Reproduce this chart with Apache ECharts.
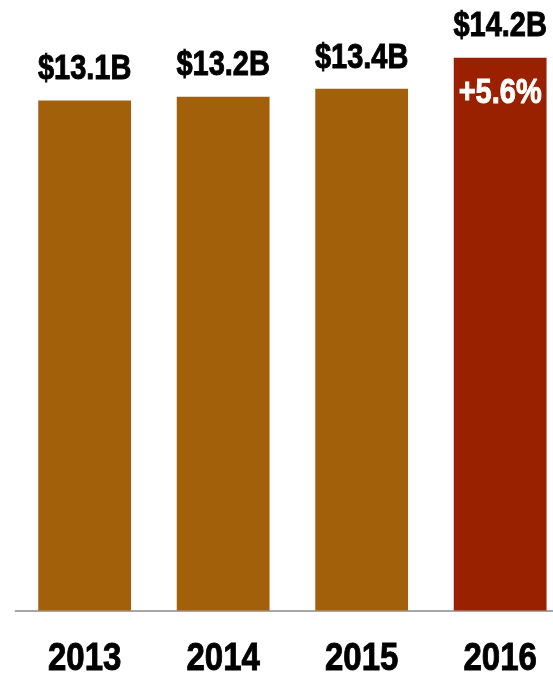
<!DOCTYPE html>
<html>
<head>
<meta charset="utf-8">
<script src="https://cdn.jsdelivr.net/npm/echarts@6/dist/echarts.min.js"></script>
<style>
  html, body { margin: 0; padding: 0; background: #fff; }
  #chart { width: 553px; height: 680px; }
</style>
</head>
<body>
<div id="chart"></div>
<script>
// Annual totals in billions of dollars
const years = ['2013', '2014', '2015', '2016'];
const revenue = [13.1, 13.2, 13.4, 14.2];
// Growth callout shown inside the latest bar
const growthLabels = ['', '', '', '+5.6%'];

const FONT = "'Liberation Sans', Arial, sans-serif";
const BROWN = '#A3600B';
const RED = '#992100';

const chart = echarts.init(document.getElementById('chart'), null, { renderer: 'canvas' });

chart.setOption({
  animation: false,
  grid: {
    left: 15.4, width: 554, top: 57.7, bottom: 69.5,
    containLabel: false,
    outerBoundsMode: 'none'
  },
  xAxis: {
    type: 'category',
    data: years,
    axisTick: { show: false },
    axisLabel: { show: false },
    axisLine: { lineStyle: { color: '#8a8a8a', width: 1.5 } }
  },
  yAxis: {
    type: 'value',
    min: 0,
    max: 14.2,
    show: false,
    splitLine: { show: false }
  },
  series: [
    {
      type: 'bar',
      barWidth: '67%',
      data: revenue.map((v, i) => ({
        value: v,
        itemStyle: { color: i === revenue.length - 1 ? RED : BROWN }
      }))
    }
  ]
});

// Condensed, tall, heavy labels: placed with the axis scales, stretched vertically
function tallText(text, x, y, size, stretch, fill) {
  return {
    type: 'text',
    x: x,
    y: y,
    scaleY: stretch,
    silent: true,
    z: 100,
    style: {
      text: text,
      fill: fill,
      stroke: fill,
      lineWidth: 0.8,
      font: 'bold ' + size + 'px ' + FONT,
      align: 'center',
      verticalAlign: 'middle'
    }
  };
}

const labels = [];
years.forEach((yr, i) => {
  const top = chart.convertToPixel({ gridIndex: 0 }, [i, revenue[i]]);
  const base = chart.convertToPixel({ gridIndex: 0 }, [i, 0]);
  labels.push(tallText('$' + revenue[i].toFixed(1) + 'B', top[0], top[1] - 31, 29, 1.22, '#000'));
  labels.push(tallText(yr, base[0], base[1] + 48.5, 33, 1.2, '#000'));
  if (growthLabels[i]) {
    labels.push(tallText(growthLabels[i], top[0], top[1] + 36, 29, 1.2, '#fff'));
  }
});
chart.setOption({ graphic: { elements: labels } });
</script>
</body>
</html>
